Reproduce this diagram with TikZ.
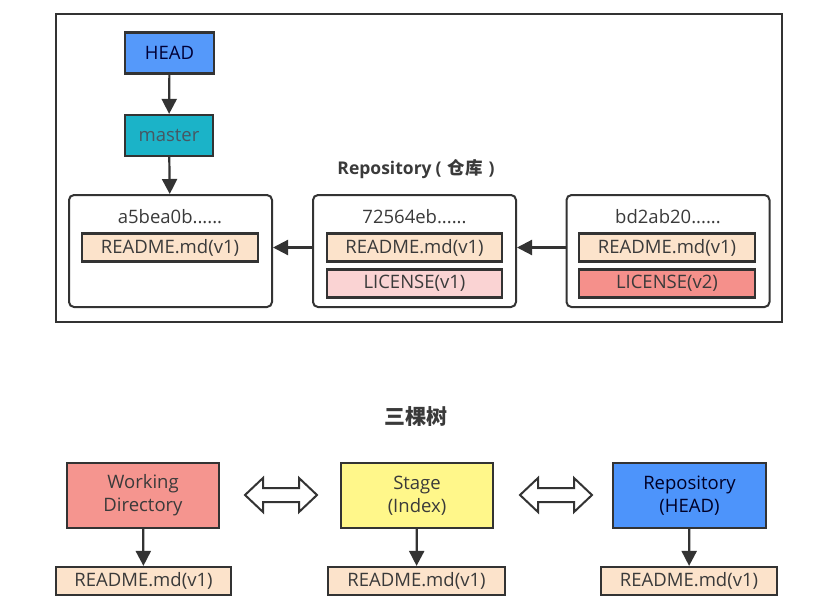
\documentclass[tikz,border=0pt]{standalone}
\usepackage{fontspec}
\setmainfont{Open Sans}
\newfontfamily\cjk{Noto Sans CJK SC}
\usetikzlibrary{arrows.meta}
\definecolor{linec}{HTML}{333333}
\definecolor{txt}{HTML}{3A3A3A}
\definecolor{headc}{HTML}{5599FA}
\definecolor{masterc}{HTML}{1BB3C8}
\definecolor{readmec}{HTML}{FCE3CB}
\definecolor{lic1}{HTML}{FAD3D3}
\definecolor{lic2}{HTML}{F5908B}
\definecolor{wdc}{HTML}{F5958F}
\definecolor{stagec}{HTML}{FFF78A}
\definecolor{repoc}{HTML}{4D94FB}
\tikzset{
  lbl/.style={font=\fontsize{18.5}{20}\selectfont},
  box/.style={draw=linec, line width=2.2pt, minimum height=#1, inner sep=0pt, text=txt, lbl},
  commit/.style={draw=linec, line width=2pt, rounded corners=5pt, inner sep=0pt},
  arr/.style={line width=2.2pt, draw=linec, -{Triangle[length=15pt,width=15pt]}},
  dbl/.style={draw=linec, line width=2pt, fill=white, line join=miter},
}
\begin{document}
\begin{tikzpicture}[x=1pt,y=-1pt]
\useasboundingbox (0,0) rectangle (835,603);
% outer frame
\node[draw=linec, line width=2.2pt, minimum width=726pt, minimum height=308pt, inner sep=0pt] (frame) at (419,168) {};
% HEAD and master
\node[box=41pt, minimum width=89pt, fill=headc, text=black!65!blue!60!black] (head) at (169.5,53) {HEAD};
\node[box=41pt, minimum width=88pt, fill=masterc, text=black!70!cyan] (master) at (169,135.5) {master};
\node[font=\bfseries\fontsize{17.5}{19}\selectfont, text=txt] (repolabel) at (416,169) {Repository\hspace{4pt}(\hspace{6pt}{\cjk\bfseries 仓库}\hspace{6pt})};
% commits
\node[commit, minimum width=203pt, minimum height=112pt] (c1) at (170.5,251) {};
\node[commit, minimum width=203pt, minimum height=112pt] (c2) at (414.5,251) {};
\node[commit, minimum width=203pt, minimum height=112pt] (c3) at (668,251) {};
\node[text=txt, lbl] (h1) at (170,217) {a5bea0b......};
\node[text=txt, lbl] (h2) at (414.5,217) {72564eb......};
\node[text=txt, lbl] (h3) at (668,217) {bd2ab20......};
\node[box=28pt, minimum width=176pt, fill=readmec] (r1) at (170,247.5) {README.md(v1)};
\node[box=28pt, minimum width=175pt, fill=readmec] (r2) at (414.5,247.5) {README.md(v1)};
\node[box=28pt, minimum width=175pt, fill=lic1] (l2) at (414.5,283.5) {LICENSE(v1)};
\node[box=28pt, minimum width=176pt, fill=readmec] (r3) at (667,247.5) {README.md(v1)};
\node[box=28pt, minimum width=176pt, fill=lic2] (l3) at (667,283.5) {LICENSE(v2)};
\draw[arr] (head) -- (master);
\draw[arr] (master) -- (c1);
\draw[arr] (c2.west |- r2) -- (c1.east |- r2);
\draw[arr] (c3.west |- r3) -- (c2.east |- r3);
% bottom
\node[text=txt, font=\cjk\bfseries\fontsize{21}{24}\selectfont] (trees) at (416,417) {三棵树};
\node[box=65pt, minimum width=152pt, fill=wdc, align=center, font=\fontsize{18.5}{23}\selectfont] (wd) at (143,495.5) {Working\\Directory};
\node[box=65pt, minimum width=152pt, fill=stagec, align=center, font=\fontsize{18.5}{23}\selectfont] (st) at (417,495.5) {Stage\\(Index)};
\node[box=65pt, minimum width=153pt, fill=repoc, align=center, font=\fontsize{18.5}{23}\selectfont, text=black!70!blue!50!black] (rp) at (689.5,495.5) {Repository\\(HEAD)};
\node[box=28pt, minimum width=175pt, fill=readmec] (rw) at (143.5,581) {README.md(v1)};
\node[box=28pt, minimum width=177pt, fill=readmec] (rs) at (416.5,581) {README.md(v1)};
\node[box=28pt, minimum width=176pt, fill=readmec] (rr) at (689,581) {README.md(v1)};
\draw[arr] (wd) -- (rw);
\draw[arr] (st) -- (rs);
\draw[arr] (rp) -- (rr);
% double arrows
\coordinate (d1) at (281,495);
\coordinate (d2) at (556,495);
\foreach \c in {d1,d2}{
  \draw[dbl] ([shift={(-36,0)}]\c) -- ([shift={(-18,-17)}]\c) -- ([shift={(-18,-7)}]\c) -- ([shift={(18,-7)}]\c) -- ([shift={(18,-17)}]\c) -- ([shift={(36,0)}]\c) -- ([shift={(18,17)}]\c) -- ([shift={(18,7)}]\c) -- ([shift={(-18,7)}]\c) -- ([shift={(-18,17)}]\c) -- cycle;
}
\end{tikzpicture}
\end{document}
